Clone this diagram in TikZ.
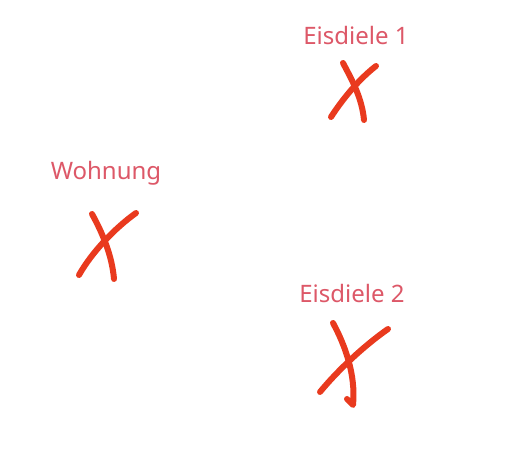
\documentclass[tikz,border=0pt]{standalone}
\usepackage{fontspec}
\setmainfont{Noto Sans}
\definecolor{lbl}{RGB}{221,88,104}
\definecolor{xmark}{RGB}{233,58,30}
\begin{document}
\begin{tikzpicture}[x=1pt,y=-1pt,
  lab/.style={text=lbl,font=\fontsize{24}{28}\selectfont,inner sep=0pt,anchor=center},
  stroke/.style={draw=xmark,line width=6pt,line cap=round,line join=round}]
\useasboundingbox[fill=white] (0,0) rectangle (512,449);
\node[lab] (e1) at (356,36) {Eisdiele 1};
\node[lab] (wo) at (106,173) {Wohnung};
\node[lab] (e2) at (352,294) {Eisdiele 2};
% Eisdiele 1 X
\draw[stroke] (343,63) .. controls (352,80) and (362,98) .. (364,120);
\draw[stroke] (376,66) .. controls (358,80) and (342,100) .. (331,117);
% Wohnung X
\draw[stroke] (92,214) .. controls (102,232) and (112,255) .. (114,279);
\draw[stroke] (136,213) .. controls (115,228) and (92,252) .. (79,275);
% Eisdiele 2 X
\draw[stroke] (333,323) .. controls (345,345) and (356,375) .. (353,405) -- (347,399);
\draw[stroke] (388,329) .. controls (365,345) and (338,370) .. (320,392);
\end{tikzpicture}
\end{document}
